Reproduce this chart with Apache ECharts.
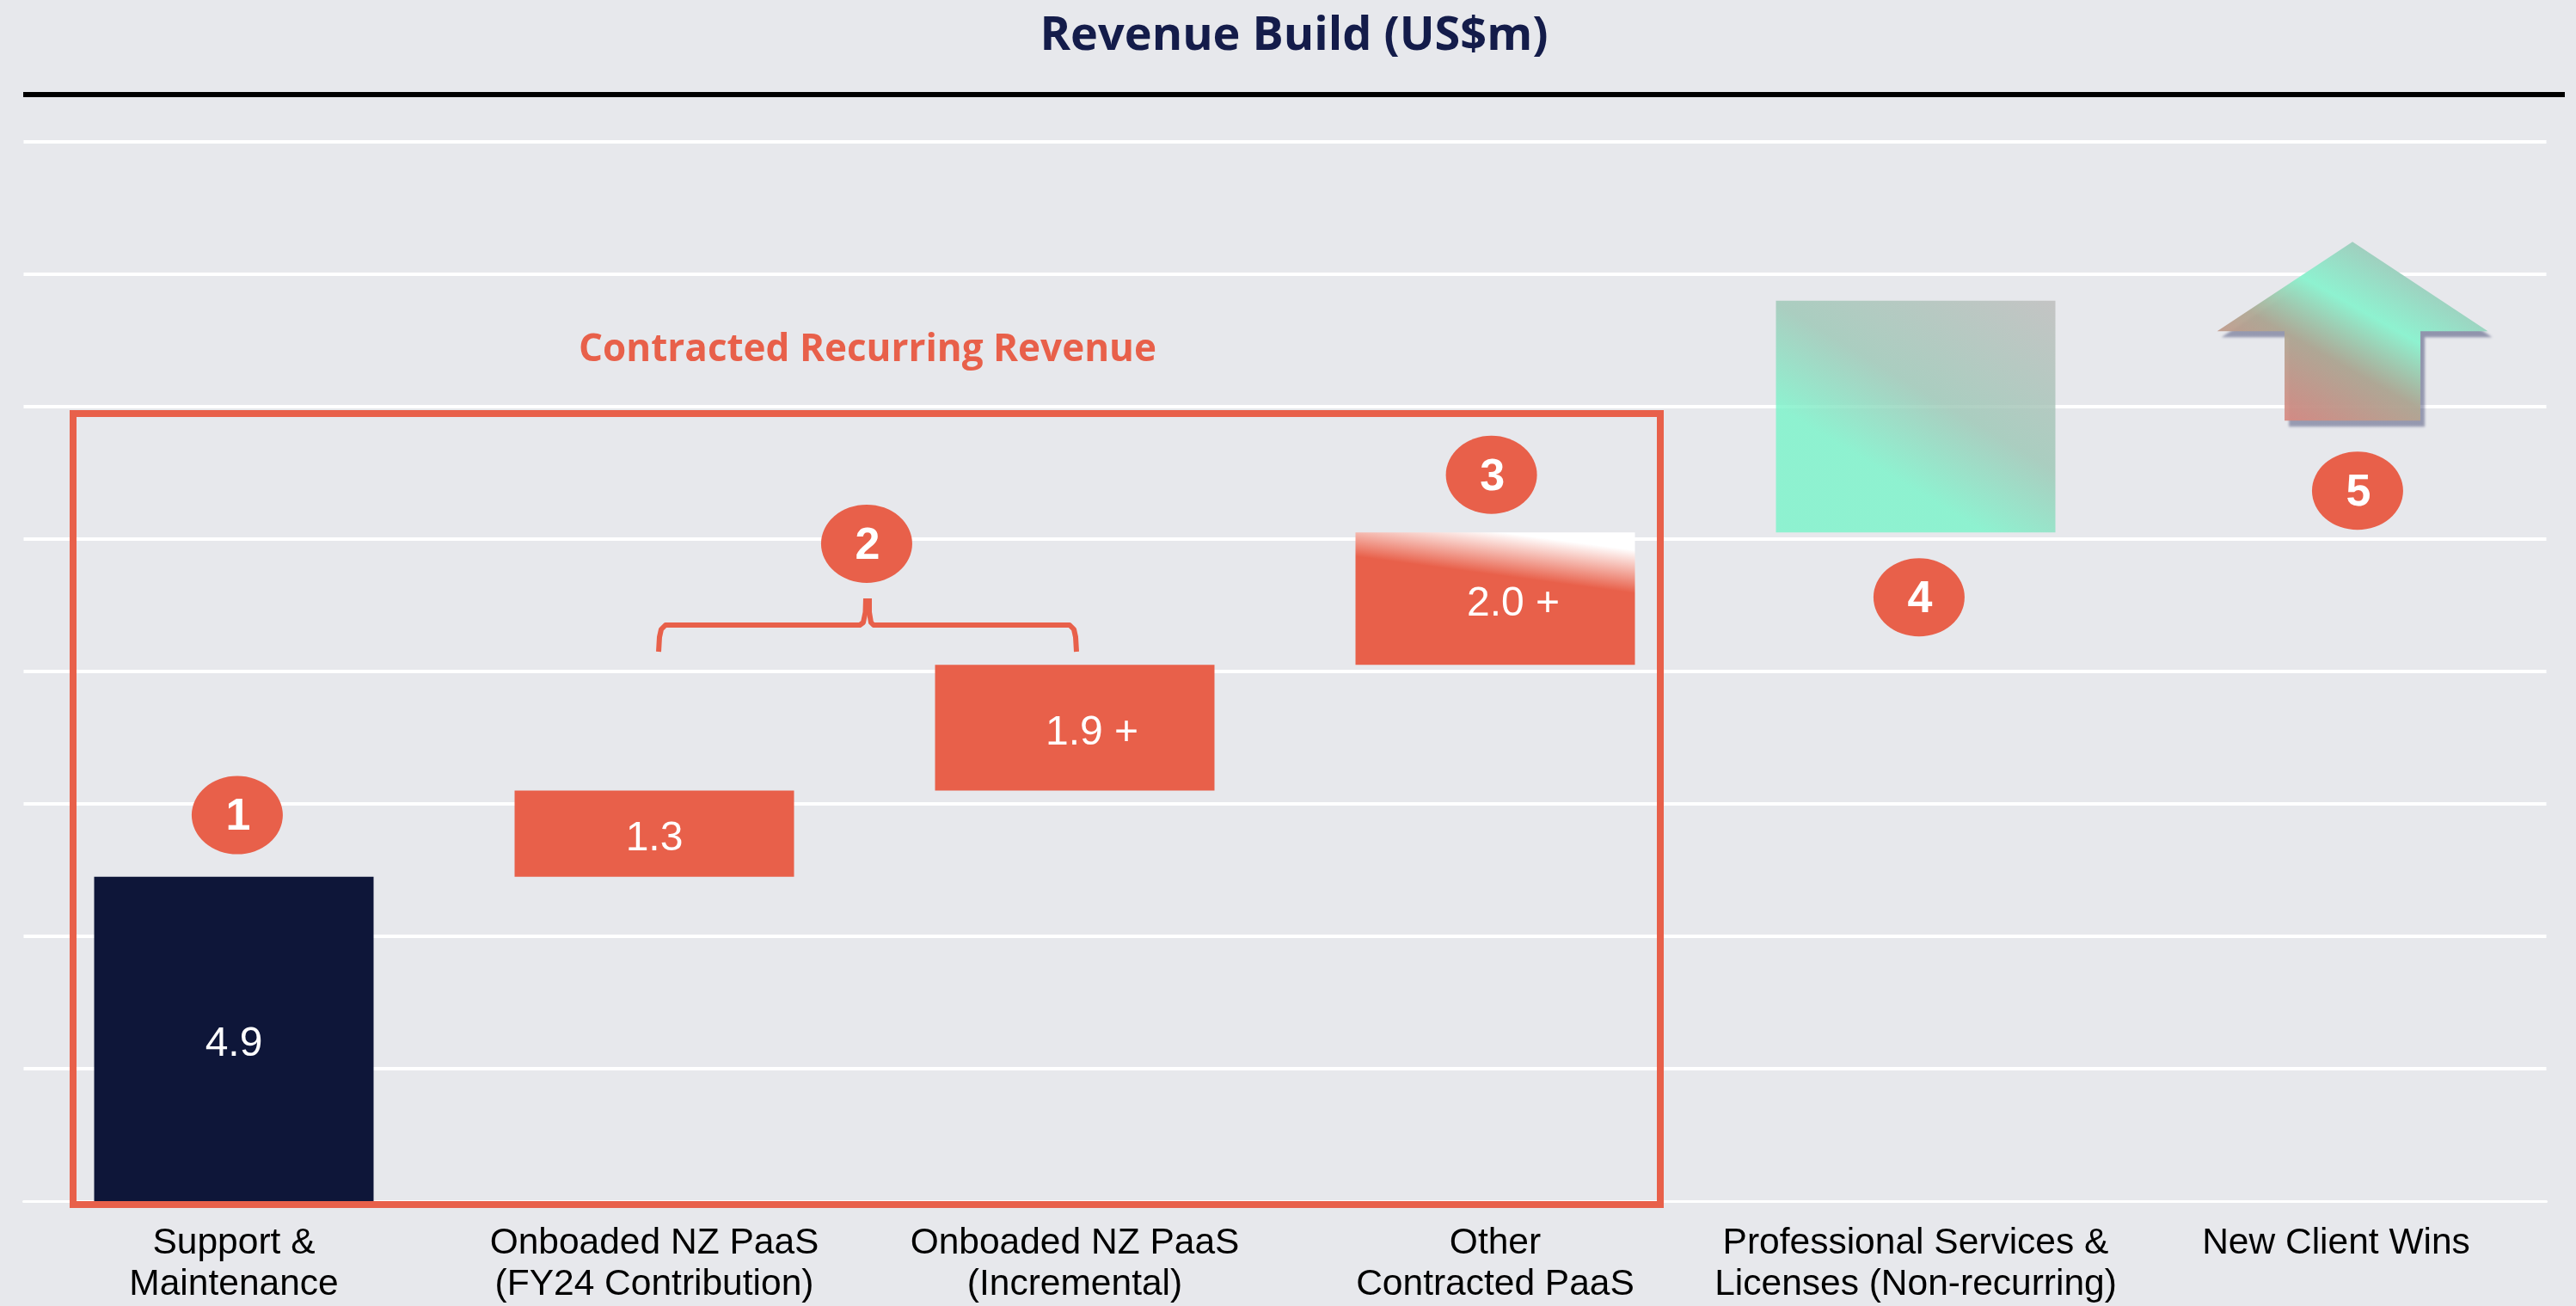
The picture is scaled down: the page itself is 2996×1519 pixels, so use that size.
<!DOCTYPE html>
<html>
<head>
<meta charset="utf-8">
<style>html,body{margin:0;padding:0;background:#e7e8ec}#c{width:2996px;height:1519px}</style>
<script src="https://cdn.jsdelivr.net/npm/echarts@6/dist/echarts.min.js"></script>
</head>
<body>
<div id="c"></div>
<script>
var titleText = 'Revenue Build (US$m)';
var calloutText = 'Contracted Recurring Revenue';
var categories = ['Support &\nMaintenance', 'Onboaded NZ PaaS\n(FY24 Contribution)', 'Onboaded NZ PaaS\n(Incremental)', 'Other\nContracted PaaS', 'Professional Services &\nLicenses (Non-recurring)', 'New Client Wins'];
var values = [4.9, 1.3, 1.9, 2.0, 3.5, null];
var valueLabels = ['4.9', '1.3', '1.9 +', '2.0 +', '', ''];
var badgeLabels = ['1', '2', '3', '4', '5'];
var badgeX = [0.508, 2.005, 3.491, 4.508, 5.551];
var badgeY = [5.83, 9.93, 10.97, 9.12, 10.73];
var arrowX = [5.539];
var arrowLow = [11.79];
var arrowShoulder = [13.14];
var arrowHigh = [14.49];

var RED = '#e8604a', NAVY = '#0e1639', BG = '#e7e8ec';
var bases = [], run = 0;
values.forEach(function (v) { bases.push(v == null ? null : run); run += v || 0; });

function grad(x, y, x2, y2, stops) {
  return new echarts.graphic.LinearGradient(x, y, x2, y2, stops);
}
var fills = [
  NAVY, RED, RED,
  grad(0.5, 0.32, 0.52, 0, [{ offset: 0, color: RED }, { offset: 1, color: '#ffffff' }]),
  grad(0.373, 0.727, 0.804, -0.14, [
    { offset: 0, color: 'rgba(120,244,201,0.8)' },
    { offset: 0.38, color: 'rgba(155,199,181,0.8)' },
    { offset: 1, color: 'rgba(187,187,186,0.8)' }
  ]),
  'transparent'
];
var labelShift = [0, 0, 20, 21, 0, 0];

var chart = echarts.init(document.getElementById('c'), null, { renderer: 'canvas', width: 2996, height: 1519 });

function brace(points) {
  return { type: 'polyline', z: 5, shape: { points: points }, style: { stroke: RED, lineWidth: 6, fill: null, lineJoin: 'round' } };
}

chart.setOption({
  backgroundColor: BG,
  animation: false,
  grid: { left: 27.5, top: 165, width: 2934, height: 1232, containLabel: false },
  xAxis: [
    {
      type: 'category', data: categories, gridIndex: 0,
      axisTick: { show: false },
      axisLine: { show: true, lineStyle: { color: '#ffffff', width: 3 } },
      axisLabel: { interval: 0, margin: 25, color: '#000000', fontFamily: 'Liberation Sans', fontSize: 42.5, lineHeight: 48, verticalAlign: 'top' },
      splitLine: { show: false }
    },
    { type: 'value', min: 0, max: 6, show: false, gridIndex: 0, splitLine: { show: false } }
  ],
  yAxis: {
    type: 'value', min: 0, max: 16, interval: 2,
    axisLine: { show: false }, axisTick: { show: false }, axisLabel: { show: false },
    splitLine: { show: true, showMinLine: false, lineStyle: { color: '#ffffff', width: 4 } }
  },
  series: [
    {
      type: 'bar', stack: 'build', barWidth: 325, silent: true,
      itemStyle: { color: 'transparent' }, data: bases
    },
    {
      type: 'bar', stack: 'build', barWidth: 325,
      data: values.map(function (v, i) {
        return {
          value: v,
          itemStyle: { color: fills[i] },
          label: {
            show: !!valueLabels[i], position: 'inside', formatter: valueLabels[i],
            offset: [labelShift[i], 6], color: '#ffffff', fontFamily: 'Liberation Sans', fontSize: 48
          }
        };
      })
    },
    {
      type: 'custom', xAxisIndex: 1, yAxisIndex: 0, z: 3,
      data: arrowX.map(function (x, i) { return [x, arrowLow[i], arrowShoulder[i], arrowHigh[i]]; }),
      renderItem: function (params, api) {
        var x = api.value(0), headHalf = 0.322, shaftHalf = 0.1616;
        var low = api.value(1), mid = api.value(2), high = api.value(3);
        var pts = [
          [x, high], [x + headHalf, mid], [x + shaftHalf, mid], [x + shaftHalf, low],
          [x - shaftHalf, low], [x - shaftHalf, mid], [x - headHalf, mid]
        ].map(function (p) { return api.coord(p); });
        return {
          type: 'polygon', shape: { points: pts },
          style: {
            fill: grad(0.28, 1.03, 0.65, 0.04, [
              { offset: 0, color: 'rgba(216,136,128,0.92)' },
              { offset: 0.38, color: 'rgba(176,168,148,0.95)' },
              { offset: 0.66, color: '#8ef2d0' },
              { offset: 1, color: '#a4c6ba' }
            ]),
            shadowColor: 'rgba(25,32,85,0.42)', shadowBlur: 3, shadowOffsetX: 5, shadowOffsetY: 7
          }
        };
      }
    },
    {
      type: 'scatter', xAxisIndex: 1, yAxisIndex: 0, z: 4,
      symbol: 'circle', symbolSize: [106, 91],
      itemStyle: { color: RED, opacity: 1 },
      data: badgeX.map(function (x, i) { return { value: [x, badgeY[i]], name: badgeLabels[i] }; }),
      label: { show: true, position: 'inside', formatter: '{b}', offset: [1, 3], color: '#ffffff', fontFamily: 'Liberation Sans', fontWeight: 'bold', fontSize: 52 }
    }
  ],
  graphic: [
    { type: 'text', z: 6, x: 1505, y: 43, style: { text: titleText, fill: '#141c4a', font: 'bold 54px "Open Sans"', textAlign: 'center', textVerticalAlign: 'middle' } },
    { type: 'rect', z: 5, shape: { x: 27, y: 107, width: 2956, height: 6 }, style: { fill: '#000000' } },
    { type: 'text', z: 6, x: 1009, y: 407, style: { text: calloutText, fill: RED, font: 'bold 44px "Open Sans"', textAlign: 'center', textVerticalAlign: 'middle' } },
    { type: 'rect', z: 5, shape: { x: 85, y: 481, width: 1846, height: 920 }, style: { fill: null, stroke: RED, lineWidth: 8 } },
    brace([[766, 758], [767, 741], [769, 732], [774, 727], [1000, 727], [1004, 724], [1006.5, 712], [1007, 696]]),
    brace([[1252, 758], [1251, 741], [1249, 732], [1244, 727], [1016, 727], [1013, 724], [1011, 712], [1011, 696]])
  ]
});
</script>
</body>
</html>
